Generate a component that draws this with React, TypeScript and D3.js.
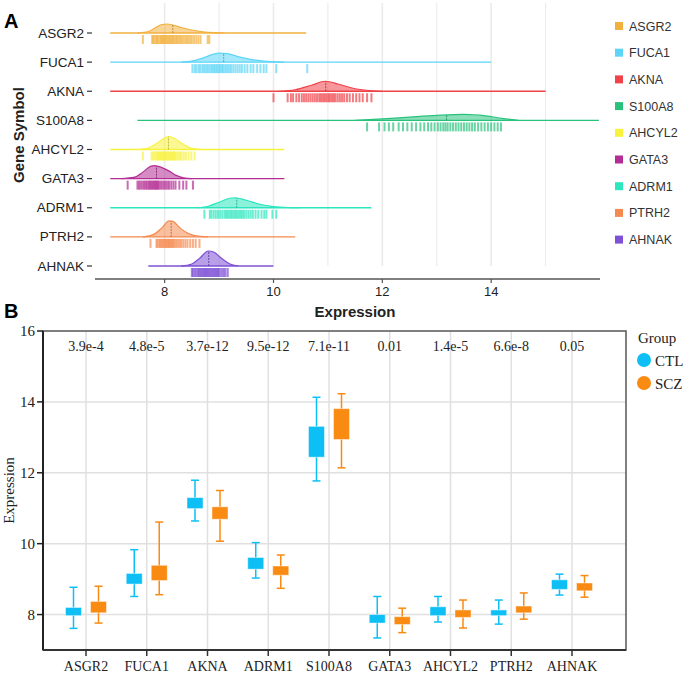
import React from "react";
import * as d3 from "d3";

// ---------- Panel A data ----------
const genesA = ["ASGR2", "FUCA1", "AKNA", "S100A8", "AHCYL2", "GATA3", "ADRM1", "PTRH2", "AHNAK"];
const colorsA = ["#F2B03F", "#5DD5F7", "#F04249", "#29C27D", "#F8F23D", "#B32D94", "#2CE6BE", "#F58A50", "#7E50D6"];
const lineExtent = [[7.0, 10.6], [7.0, 14.0], [7.0, 15.0], [7.5, 15.98], [7.0, 10.2], [7.0, 10.2], [7.0, 11.8], [7.0, 10.4], [7.7, 10.0]];

const rugASGR2 = [7.6, 7.77, 7.79, 7.81, 7.84, 7.86, 7.88, 7.91, 7.93, 7.95, 7.97, 7.99, 8.01, 8.03, 8.05, 8.07, 8.09, 8.11, 8.13, 8.15, 8.17, 8.2, 8.22, 8.24, 8.27, 8.29, 8.32, 8.35, 8.38, 8.41, 8.44, 8.47, 8.5, 8.54, 8.58, 8.62, 8.66, 8.79, 8.82];
const rugFUCA1 = [8.51, 8.55, 8.58, 8.62, 8.65, 8.69, 8.72, 8.75, 8.78, 8.81, 8.84, 8.87, 8.9, 8.92, 8.95, 8.97, 9.0, 9.02, 9.05, 9.07, 9.1, 9.13, 9.16, 9.19, 9.22, 9.26, 9.3, 9.34, 9.38, 9.42, 9.47, 9.52, 9.58, 9.63, 9.7, 9.76, 9.82, 9.87, 10.05, 10.62];
const rugAKNA = [10.0, 10.26, 10.32, 10.36, 10.42, 10.47, 10.52, 10.56, 10.6, 10.64, 10.68, 10.72, 10.76, 10.8, 10.84, 10.87, 10.9, 10.93, 10.96, 10.99, 11.02, 11.05, 11.08, 11.11, 11.14, 11.18, 11.22, 11.26, 11.3, 11.35, 11.4, 11.46, 11.52, 11.58, 11.64, 11.72, 11.8];
const rugS100A8 = [11.72, 11.94, 12.04, 12.12, 12.2, 12.3, 12.38, 12.46, 12.54, 12.62, 12.7, 12.77, 12.84, 12.9, 12.96, 13.02, 13.07, 13.12, 13.16, 13.2, 13.25, 13.3, 13.35, 13.4, 13.45, 13.5, 13.55, 13.6, 13.65, 13.7, 13.76, 13.82, 13.88, 13.94, 14.0, 14.06, 14.12, 14.18];
const rugAHCYL2 = [7.6, 7.76, 7.79, 7.82, 7.85, 7.87, 7.89, 7.91, 7.93, 7.95, 7.97, 7.99, 8.01, 8.03, 8.05, 8.07, 8.09, 8.11, 8.13, 8.15, 8.17, 8.19, 8.22, 8.25, 8.28, 8.31, 8.35, 8.39, 8.44, 8.49, 8.55];
const rugGATA3 = [7.32, 7.5, 7.53, 7.56, 7.59, 7.62, 7.65, 7.67, 7.7, 7.72, 7.74, 7.76, 7.78, 7.8, 7.82, 7.84, 7.86, 7.88, 7.9, 7.93, 7.96, 7.99, 8.02, 8.05, 8.08, 8.12, 8.16, 8.2, 8.27, 8.34, 8.4, 8.52];
const rugADRM1 = [8.73, 8.83, 8.86, 8.9, 8.94, 8.98, 9.02, 9.06, 9.1, 9.13, 9.16, 9.19, 9.22, 9.25, 9.28, 9.31, 9.34, 9.37, 9.4, 9.43, 9.46, 9.5, 9.54, 9.58, 9.62, 9.67, 9.72, 9.78, 9.83, 9.87, 9.98, 10.05];
const rugPTRH2 = [7.74, 7.85, 7.87, 7.9, 7.92, 7.94, 7.96, 7.98, 8.0, 8.02, 8.04, 8.06, 8.08, 8.1, 8.12, 8.14, 8.16, 8.18, 8.21, 8.24, 8.27, 8.3, 8.34, 8.38, 8.42, 8.47, 8.52, 8.57, 8.64];
const rugAHNAK = [8.5, 8.52, 8.55, 8.57, 8.6, 8.62, 8.64, 8.66, 8.68, 8.7, 8.72, 8.74, 8.76, 8.78, 8.8, 8.82, 8.84, 8.86, 8.88, 8.9, 8.92, 8.94, 8.96, 8.98, 9.0, 9.03, 9.06, 9.09, 9.12, 9.16];
const rugs = [rugASGR2, rugFUCA1, rugAKNA, rugS100A8, rugAHCYL2, rugGATA3, rugADRM1, rugPTRH2, rugAHNAK];

// density profiles: [expression, density]
const densASGR2 = [[7.5, 0], [7.7, 0.15], [7.85, 0.6], [7.95, 0.85], [8.05, 0.9], [8.15, 0.8], [8.3, 0.55], [8.5, 0.3], [8.7, 0.12], [8.9, 0.03], [9.1, 0]];
const densFUCA1 = [[8.3, 0], [8.5, 0.1], [8.7, 0.4], [8.9, 0.8], [9.0, 0.9], [9.15, 0.85], [9.35, 0.55], [9.6, 0.25], [9.9, 0.08], [10.2, 0]];
const densAKNA = [[10.1, 0], [10.4, 0.15], [10.7, 0.6], [10.95, 1.0], [11.2, 0.7], [11.5, 0.25], [11.8, 0.05], [12.0, 0]];
const densS100A8 = [[11.5, 0], [12.0, 0.15], [12.5, 0.33], [13.0, 0.5], [13.5, 0.6], [13.9, 0.45], [14.2, 0.2], [14.5, 0]];
const densAHCYL2 = [[7.5, 0], [7.7, 0.15], [7.85, 0.6], [8.0, 1.15], [8.08, 1.3], [8.2, 1.05], [8.35, 0.5], [8.5, 0.12], [8.7, 0]];
const densGATA3 = [[7.2, 0], [7.45, 0.15], [7.6, 0.65], [7.75, 1.25], [7.82, 1.3], [7.95, 1.1], [8.1, 0.7], [8.2, 0.35], [8.35, 0.08], [8.5, 0]];
const densADRM1 = [[8.6, 0], [8.8, 0.15], [9.0, 0.55], [9.2, 0.95], [9.3, 1.0], [9.5, 0.75], [9.75, 0.35], [10.0, 0.12], [10.3, 0.02], [10.5, 0]];
const densPTRH2 = [[7.6, 0], [7.8, 0.25], [7.95, 0.9], [8.08, 1.6], [8.15, 1.55], [8.3, 0.8], [8.45, 0.3], [8.65, 0.05], [8.8, 0]];
const densAHNAK = [[8.3, 0], [8.5, 0.2], [8.65, 0.8], [8.8, 1.5], [8.9, 1.4], [9.05, 0.75], [9.2, 0.2], [9.35, 0]];
const densities = [densASGR2, densFUCA1, densAKNA, densS100A8, densAHCYL2, densGATA3, densADRM1, densPTRH2, densAHNAK];

const xTicksA = [8, 10, 12, 14];
const xGridA = [8, 9, 10, 11, 12, 13, 14, 15];

// ---------- Panel B data ----------
const genesB = ["ASGR2", "FUCA1", "AKNA", "ADRM1", "S100A8", "GATA3", "AHCYL2", "PTRH2", "AHNAK"];
const pValues = ["3.9e-4", "4.8e-5", "3.7e-12", "9.5e-12", "7.1e-11", "0.01", "1.4e-5", "6.6e-8", "0.05"];
// [whisker low, Q1, Q3, whisker high]
const ctlStats = [[7.61, 7.97, 8.2, 8.77], [8.51, 8.86, 9.16, 9.83], [10.64, 10.99, 11.3, 11.79], [9.03, 9.28, 9.61, 10.03], [11.77, 12.44, 13.31, 14.13], [7.34, 7.76, 8.0, 8.51], [7.79, 7.97, 8.22, 8.51], [7.73, 7.97, 8.13, 8.41], [8.55, 8.71, 8.98, 9.14]];
const sczStats = [[7.76, 8.05, 8.37, 8.8], [8.56, 8.96, 9.39, 10.61], [10.07, 10.69, 11.04, 11.5], [8.74, 9.11, 9.37, 9.68], [12.14, 12.94, 13.81, 14.23], [7.49, 7.72, 7.94, 8.18], [7.62, 7.92, 8.13, 8.41], [7.87, 8.05, 8.24, 8.61], [8.49, 8.67, 8.89, 9.1]];
const groups = ["CTL", "SCZ"];
const groupColors = ["#0DBFF5", "#F98A12"];
const yTicksB = [8, 10, 12, 14, 16];

const sans = "Liberation Sans, Arial, sans-serif";
const serif = "Liberation Serif, Times New Roman, serif";

function interp(prof: number[][], v: number) {
  for (let i = 0; i < prof.length - 1; i++) {
    const [x0, y0] = prof[i];
    const [x1, y1] = prof[i + 1];
    if (v >= x0 && v <= x1) return y0 + ((v - x0) / (x1 - x0)) * (y1 - y0);
  }
  return 0;
}

export default function App() {
  // Panel A scales
  const xA = d3.scaleLinear().domain([6.72, 16]).range([95, 600]);
  const yA = d3.scalePoint<string>().domain(genesA).range([33, 266]);
  const hA = d3.scaleLinear().domain([0, 1]).range([0, 10]);

  // Panel B scales
  const xB = d3.scalePoint<string>().domain(genesB).range([86, 572]);
  const yB = d3.scaleLinear().domain([7, 16]).range([650, 331]);
  const plotB = { left: 43, right: 626, top: 331, bottom: 650 };
  const offset = 12.5;
  const boxW = 16;
  const capW = 8;

  return (
    <svg width={685} height={674} style={{ position: "absolute", left: 0, top: 0, background: "#fff" }}>
      {/* ===== Panel A ===== */}
      <text x={4} y={28} fontFamily={sans} fontWeight="bold" fontSize={20}>A</text>
      {xGridA.map((t) => (
        <line key={t} x1={xA(t)} x2={xA(t)} y1={3} y2={266} stroke="#EBEBEB" strokeWidth={t % 2 === 0 ? 1.6 : 1.1} />
      ))}
      {genesA.map((g, i) => {
        const y0 = yA(g)!;
        const col = colorsA[i];
        const prof = densities[i];
        const area = d3.area<number[]>().x((d) => xA(d[0])).y0(y0).y1((d) => y0 - hA(d[1])).curve(d3.curveMonotoneX);
        const top = d3.line<number[]>().x((d) => xA(d[0])).y((d) => y0 - hA(d[1])).curve(d3.curveMonotoneX);
        const med = d3.median(rugs[i])!;
        const darker = d3.color(col)!.darker(0.8).toString();
        return (
          <g key={g}>
            <line x1={xA(lineExtent[i][0])} x2={xA(lineExtent[i][1])} y1={y0} y2={y0} stroke={col} strokeWidth={1.4} />
            <path d={area(prof)!} fill={col} fillOpacity={0.55} />
            <path d={top(prof)!} fill="none" stroke={col} strokeWidth={1.2} />
            <line x1={xA(med)} x2={xA(med)} y1={y0} y2={y0 - hA(interp(prof, med))} stroke={darker} strokeWidth={0.9} strokeDasharray="2,1" />
            {rugs[i].map((v, j) => (
              <line key={j} x1={xA(v)} x2={xA(v)} y1={y0 + 2} y2={y0 + 11} stroke={col} strokeWidth={2} strokeOpacity={0.7} />
            ))}
            <text x={84} y={y0 + 4.5} textAnchor="end" fontFamily={sans} fontSize={13.5} fill="#222">{g}</text>
            <line x1={87} x2={92} y1={y0} y2={y0} stroke="#333" strokeWidth={1.2} />
          </g>
        );
      })}
      <line x1={95} x2={600} y1={279} y2={279} stroke="#555" strokeWidth={1.6} />
      {xTicksA.map((t) => (
        <g key={t}>
          <line x1={xA(t)} x2={xA(t)} y1={279} y2={283} stroke="#555" strokeWidth={1.2} />
          <text x={xA(t)} y={296} textAnchor="middle" fontFamily={sans} fontSize={13} fill="#222">{t}</text>
        </g>
      ))}
      <text x={355} y={317} textAnchor="middle" fontFamily={sans} fontWeight="bold" fontSize={15} fill="#222">Expression</text>
      <text transform="translate(24,135) rotate(-90)" textAnchor="middle" fontFamily={sans} fontWeight="bold" fontSize={15} fill="#222">Gene Symbol</text>
      {genesA.map((g, i) => (
        <g key={"lg" + g}>
          <rect x={615} y={22 + i * 26.7} width={8} height={8} fill={colorsA[i]} />
          <text x={629} y={30.5 + i * 26.7} fontFamily={sans} fontSize={12.5} fill="#333">{g}</text>
        </g>
      ))}

      {/* ===== Panel B ===== */}
      <text x={4} y={318} fontFamily={sans} fontWeight="bold" fontSize={20}>B</text>
      {yTicksB.filter((t) => t < 16).map((t) => (
        <line key={t} x1={plotB.left} x2={plotB.right} y1={yB(t)} y2={yB(t)} stroke="#E0E0E0" strokeWidth={1.5} />
      ))}
      {genesB.map((g) => (
        <line key={g} x1={xB(g)} x2={xB(g)} y1={plotB.top} y2={plotB.bottom} stroke="#E0E0E0" strokeWidth={1.5} />
      ))}
      <rect x={plotB.left} y={plotB.top} width={plotB.right - plotB.left} height={plotB.bottom - plotB.top} fill="none" stroke="#555" strokeWidth={1.5} />
      <line x1={plotB.left} x2={plotB.left} y1={plotB.top} y2={plotB.bottom} stroke="#222" strokeWidth={2} />
      <line x1={plotB.left} x2={plotB.right} y1={plotB.bottom} y2={plotB.bottom} stroke="#333" strokeWidth={2} />
      {yTicksB.map((t) => (
        <g key={t}>
          <line x1={plotB.left - 6} x2={plotB.left} y1={yB(t)} y2={yB(t)} stroke="#222" strokeWidth={1.5} />
          <text x={35} y={yB(t) + 5} textAnchor="end" fontFamily={serif} fontSize={15} fill="#222">{t}</text>
        </g>
      ))}
      <text transform={`translate(14,${(plotB.top + plotB.bottom) / 2}) rotate(-90)`} textAnchor="middle" fontFamily={serif} fontSize={15} fill="#222">Expression</text>
      {genesB.map((g, i) => (
        <g key={"b" + g}>
          <line x1={xB(g)} x2={xB(g)} y1={plotB.bottom} y2={plotB.bottom + 6} stroke="#333" strokeWidth={1.5} />
          <text x={xB(g)} y={671} textAnchor="middle" fontFamily={serif} fontSize={14} fill="#222">{g}</text>
          <text x={xB(g)} y={351} textAnchor="middle" fontFamily={serif} fontSize={14} fill="#222">{pValues[i]}</text>
          {[ctlStats[i], sczStats[i]].map((s, k) => {
            const cx = xB(g)! + (k === 0 ? -offset : offset);
            const col = groupColors[k];
            return (
              <g key={k}>
                <line x1={cx} x2={cx} y1={yB(s[0])} y2={yB(s[3])} stroke={col} strokeWidth={1.5} />
                <line x1={cx - capW / 2} x2={cx + capW / 2} y1={yB(s[0])} y2={yB(s[0])} stroke={col} strokeWidth={1.5} />
                <line x1={cx - capW / 2} x2={cx + capW / 2} y1={yB(s[3])} y2={yB(s[3])} stroke={col} strokeWidth={1.5} />
                <rect x={cx - boxW / 2} y={yB(s[2])} width={boxW} height={yB(s[1]) - yB(s[2])} fill={col} stroke="#fff" strokeOpacity={0.45} strokeWidth={1} />
              </g>
            );
          })}
        </g>
      ))}
      <text x={638} y={343} fontFamily={serif} fontSize={15} fill="#222">Group</text>
      {groups.map((g, k) => (
        <g key={g}>
          <circle cx={644} cy={360 + k * 23} r={7} fill={groupColors[k]} />
          <text x={655} y={365.5 + k * 23} fontFamily={serif} fontSize={15} fill="#222">{g}</text>
        </g>
      ))}
    </svg>
  );
}
